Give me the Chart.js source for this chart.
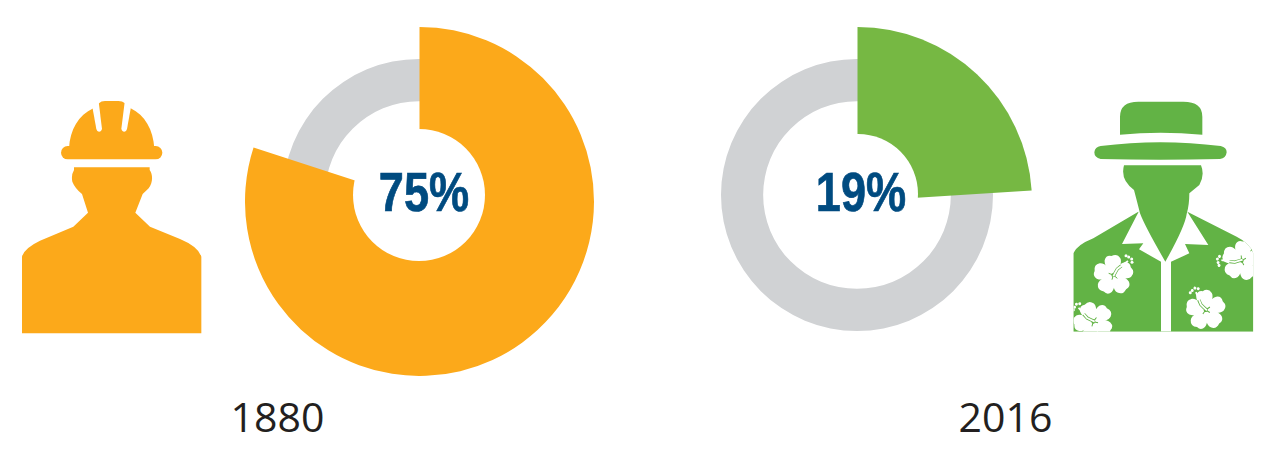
<!DOCTYPE html>
<html>
<head>
<meta charset="utf-8">
<title>1880 / 2016</title>
<script src="https://cdn.jsdelivr.net/npm/chart.js@4/dist/chart.umd.min.js"></script>
<style>
  html, body { margin: 0; padding: 0; background: #fff; }
  #stage { position: relative; width: 1287px; height: 450px; overflow: hidden; }
  canvas { position: absolute; }
  svg { position: absolute; }
  .hole { position: absolute; background: #fff; border-radius: 50%; }
  .share {
    position: absolute; top: 161px; line-height: 62px; transform: translateX(-50%) scaleX(0.82);
    font-family: "Liberation Sans", sans-serif;
    font-weight: bold; font-size: 55px; color: #004b80;
    -webkit-text-stroke: 0.7px #004b80;
  }
  .year {
    position: absolute; top: 388px; line-height: 56px; transform: translateX(-50%);
    font-family: "Open Sans", sans-serif; font-size: 41px; color: #231f20;
  }
</style>
</head>
<body>
<div id="stage">
  <svg style="left:0;top:80px" width="220" height="270" viewBox="0 0 660 810">
    <g fill="#fca91a">
      <path d="M207 205 C210 150 235 105 280 85 L297 70 Q303 63 315 63 L355 63 Q367 63 375 70 L392 85 C435 105 460 150 463 205 Z"/>
      <rect x="183" y="198" width="304" height="40" rx="20"/>
      <path d="M222 262 L449 262 L449 270 C460 285 458 310 446 325 Q436 335 428 342 L406 398 L450 440 L540 477 Q595 500 604 530 L604 760 L66 760 L66 530 Q72 505 120 482 L220 440 L264 398 L246 342 Q225 325 217 305 Q213 285 222 270 Z"/>
    </g>
    <path fill="#fff" d="M276 75 L296 66 L306 146 Q304 155 297 155 Q291 155 289 147 Z"/>
    <path fill="#fff" d="M394 75 L374 66 L364 146 Q366 155 373 155 Q379 155 381 147 Z"/>
  </svg>

  <canvas id="ring0" width="272" height="272" style="left:283px;top:59px"></canvas>
  <canvas id="slice0" width="349" height="349" style="left:245px;top:27px"></canvas>
  <div class="hole" style="left:353px;top:129px;width:132px;height:132px"></div>
  <div class="share" style="left:424px" id="share0"></div>
  <div class="year" style="left:277.5px" id="year0"></div>

  <canvas id="ring1" width="272" height="272" style="left:721px;top:59px"></canvas>
  <canvas id="slice1" width="349" height="349" style="left:683px;top:27px"></canvas>
  <div class="hole" style="left:798px;top:134px;width:120px;height:120px"></div>
  <div class="share" style="left:861px" id="share1"></div>
  <div class="year" style="left:1005.5px" id="year1"></div>

  <svg style="left:1060px;top:90px" width="210" height="250" viewBox="0 0 630 750">
    <defs>
      <clipPath id="shirt"><path d="M40 725 L40 490 Q50 465 100 445 L235 365 L382 365 L530 440 Q570 460 580 490 L580 725 Z"/></clipPath>
      <path id="petal" d="M0 0 C-12 -10 -28 -26 -26 -44 Q-22 -60 -6 -57 Q12 -66 21 -50 C28 -36 14 -12 0 0 Z"/>
      <g id="flower">
        <g fill="#fff">
          <use href="#petal"/>
          <use href="#petal" transform="rotate(72)"/>
          <use href="#petal" transform="rotate(144)"/>
          <use href="#petal" transform="rotate(216)"/>
          <use href="#petal" transform="rotate(288)"/>
        </g>
        <circle cx="0" cy="0" r="6" fill="#62b345"/>
        <path d="M0 0 L-14 -5 M0 0 L-4 14 M0 0 L12 10" stroke="#62b345" stroke-width="3" fill="none"/>
        <path d="M0 4 Q6 -8 12 -18 L24 -28" stroke="#62b345" stroke-width="10" fill="none"/>
        <path d="M0 4 Q6 -8 12 -18 L44 -42" stroke="#fff" stroke-width="5.5" fill="none"/>
        <g fill="#fff">
          <circle cx="46" cy="-54" r="4.5"/><circle cx="55" cy="-48" r="4.5"/><circle cx="56" cy="-38" r="4.5"/>
          <circle cx="38" cy="-58" r="4.5"/>
        </g>
      </g>
    </defs>
    <path fill="#62b345" d="M180 134 L180 80 Q180 35 235 35 L370 35 Q427 35 427 80 L427 134 Q300 122 180 134 Z"/>
    <path fill="#62b345" d="M122 168 Q300 145 482 168 Q500 172 500 187 Q498 205 480 207 Q300 212 122 207 Q103 203 103 187 Q105 170 122 168 Z"/>
    <g clip-path="url(#shirt)">
      <rect x="0" y="340" width="630" height="400" fill="#62b345"/>
      <path fill="#fff" d="M236 365 L186 462 L250 460 L237 478 L303 515 L303 725 L333 725 L333 515 L388 490 L375 462 L445 465 L382 365 Z"/>
      <use href="#flower" transform="translate(160 555)"/>
      <use href="#flower" transform="translate(545 512) rotate(-135)"/>
      <use href="#flower" transform="translate(437 660) rotate(-75)"/>
      <use href="#flower" transform="translate(100 695) rotate(-93)"/>
    </g>
    <path fill="#62b345" d="M192 226 L423 226 Q435 255 418 285 L388 310 Q388 345 380 372 Q375 410 316 515 Q255 410 240 370 Q230 330 222 300 Q180 270 192 226 Z"/>
  </svg>
</div>

<script>
// years under each doughnut, and the share printed in each hole
const years = ["1880", "2016"];
const shareLabels = ["75%", "19%"];
// size of the big wedge as it is drawn in the picture (measured from its angle)
const drawnShare = [80, 24];
const sliceColors = ["#fca91a", "#76b843"];
const ringColor = "#d0d2d4";

function noFrills() {
  return {
    responsive: false,
    animation: false,
    events: [],
    plugins: { legend: { display: false }, tooltip: { enabled: false } },
  };
}

years.forEach(function (year, i) {
  document.getElementById("year" + i).textContent = year;
  document.getElementById("share" + i).textContent = shareLabels[i];

  // thin grey ring behind
  new Chart(document.getElementById("ring" + i), {
    type: "doughnut",
    data: {
      labels: [year],
      datasets: [{ data: [100], backgroundColor: [ringColor], borderWidth: 0 }],
    },
    options: Object.assign(noFrills(), { cutout: "69%" }),
  });

  // big wedge on top, its hole is the white disc laid over it
  new Chart(document.getElementById("slice" + i), {
    type: "doughnut",
    data: {
      labels: [year, ""],
      datasets: [
        {
          data: [drawnShare[i], 100 - drawnShare[i]],
          backgroundColor: [sliceColors[i], "rgba(0,0,0,0)"],
          borderWidth: 0,
        },
      ],
    },
    options: Object.assign(noFrills(), { cutout: 0 }),
  });
});
</script>
</body>
</html>
